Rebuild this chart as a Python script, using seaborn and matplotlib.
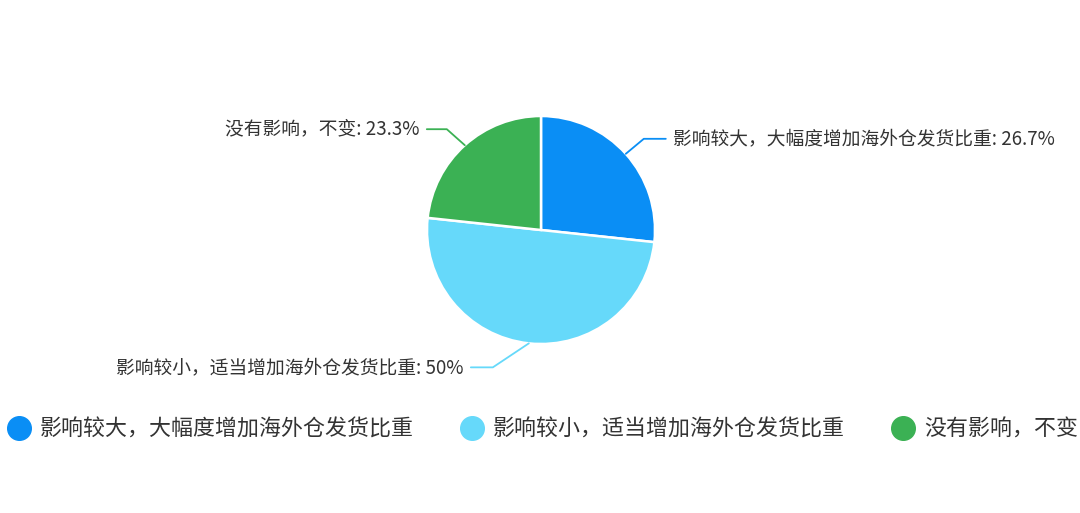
import numpy as np
import seaborn as sns
import matplotlib.pyplot as plt
from matplotlib.lines import Line2D

# dados do gráfico
categorias = ['影响较大，大幅度增加海外仓发货比重',
              '影响较小，适当增加海外仓发货比重',
              '没有影响，不变']
percentuais = [26.7, 50, 23.3]
rotulos_pct = ['26.7%', '50%', '23.3%']
cores = ['#0a8ef5', '#66d9fa', '#3bb154']

sns.set_theme(style='white')
plt.rcParams['font.family'] = ['Noto Sans CJK SC', 'DejaVu Sans']

W, H = 1080, 513
fig = plt.figure(figsize=(W / 100, H / 100), dpi=100)
ax = fig.add_axes([0, 0, 1, 1])

cx, cy, r = 541, H - 230, 114
wedges, _ = ax.pie(percentuais, colors=sns.color_palette(cores), startangle=90,
                   counterclock=False, center=(cx, cy), radius=r,
                   wedgeprops=dict(edgecolor='white', linewidth=1.8), frame=True)
ax.set_xlim(0, W)
ax.set_ylim(0, H)
ax.set_aspect('equal')
ax.axis('off')

# ângulo central de cada fatia (sentido horário a partir do topo)
acumulado = np.cumsum(percentuais) - np.array(percentuais) / 2
angulos = np.deg2rad(90 - acumulado / sum(percentuais) * 360)

# linhas de chamada e rótulos: (deslocamento do cotovelo, comprimento horizontal, lado)
chamadas = [((18, 15), 22, 1), ((-36, -24), 22, -1), ((-18, 16), 20, -1)]
for ang, cat, pct, cor, (dcot, hlen, lado) in zip(angulos, categorias, rotulos_pct, cores, chamadas):
    x0, y0 = cx + r * np.cos(ang), cy + r * np.sin(ang)
    x1, y1 = x0 + dcot[0], y0 + dcot[1]
    x2 = x1 + lado * hlen
    ax.plot([x0, x1, x2], [y0, y1, y1], color=cor, lw=1.3)
    ax.text(x2 + lado * 7, y1, f'{cat}: {pct}', fontsize=13.5, color='#333333',
            ha='left' if lado > 0 else 'right', va='center')

# legenda
handles = [Line2D([0], [0], marker='o', linestyle='', markersize=17,
                  markerfacecolor=c, markeredgecolor=c) for c in cores]
fig.legend(handles, categorias, loc='center left', bbox_to_anchor=(8 / W, 1 - 430 / H),
           ncol=3, frameon=False, fontsize=15.8, handletextpad=0.45,
           columnspacing=2.15, handlelength=1.0, borderaxespad=0, borderpad=0,
           labelcolor='#333333')

fig.savefig('out.png', dpi=100)
